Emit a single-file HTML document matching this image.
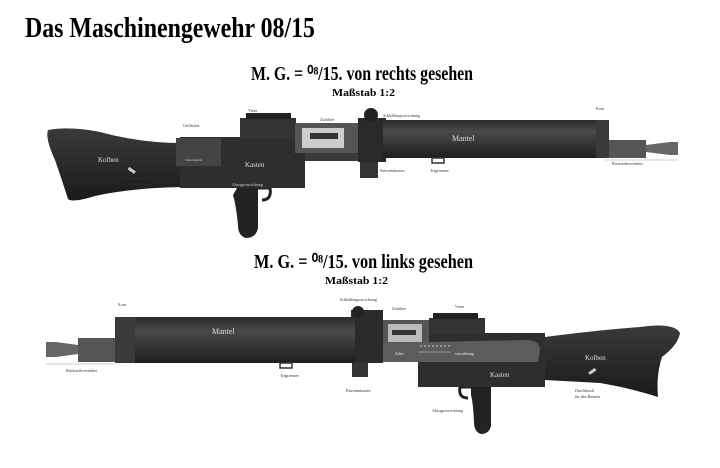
<!DOCTYPE html>
<html><head><meta charset="utf-8"><style>
html,body{margin:0;padding:0;background:#fff;}
svg{display:block}
text{font-family:"Liberation Serif",serif;}
</style></head><body>
<svg width="720" height="468" viewBox="0 0 720 468" xmlns="http://www.w3.org/2000/svg">
<defs>
<linearGradient id="bar" x1="0" y1="0" x2="0" y2="1">
<stop offset="0" stop-color="#2a2a2a"/><stop offset="0.3" stop-color="#4a4a4a"/><stop offset="1" stop-color="#1e1e1e"/></linearGradient>
<linearGradient id="stk" x1="0" y1="0" x2="0" y2="1">
<stop offset="0" stop-color="#3a3a3a"/><stop offset="1" stop-color="#1a1a1a"/></linearGradient>
</defs>
<rect width="720" height="468" fill="#fff"/>
<text x="25" y="37" font-size="29" font-weight="bold" textLength="290" lengthAdjust="spacingAndGlyphs">Das Maschinengewehr 08/15</text>
<text x="251" y="80" font-size="20" font-weight="bold" textLength="222" lengthAdjust="spacingAndGlyphs">M. G. = ⁰⁸/15. von rechts gesehen</text>
<text x="332" y="96" font-size="10" font-weight="bold" textLength="63" lengthAdjust="spacingAndGlyphs">Maßstab  1:2</text>
<text x="254" y="268" font-size="20" font-weight="bold" textLength="219" lengthAdjust="spacingAndGlyphs">M. G. = ⁰⁸/15. von links gesehen</text>
<text x="325" y="284" font-size="10" font-weight="bold" textLength="63" lengthAdjust="spacingAndGlyphs">Maßstab  1:2</text>

<!-- TOP GUN -->
<g>
<path d="M48,130 Q70,126 100,132 Q140,143 182,143 L182,187 Q130,188 95,196 Q72,203 68,199 Q62,180 55,160 Q45,138 48,130 Z" fill="url(#stk)"/>
<path d="M237,188 L258,188 L258,228 Q256,238 246,238 Q238,236 238,225 Q236,205 233,195 Z" fill="#222"/>
<path d="M258,188 L270,188 Q272,200 262,200" fill="none" stroke="#222" stroke-width="3"/>
<rect x="180" y="137" width="125" height="51" fill="#2e2e2e"/>
<rect x="240" y="118" width="56" height="20" fill="#333"/>
<rect x="246" y="113" width="45" height="6" fill="#222"/>
<rect x="176" y="138" width="45" height="28" fill="#444"/>
<rect x="295" y="123" width="63" height="30" fill="#555"/>
<rect x="302" y="128" width="42" height="20" fill="#ccc"/>
<rect x="310" y="133" width="28" height="6" fill="#333"/>
<rect x="305" y="153" width="55" height="8" fill="#3a3a3a"/>
<rect x="358" y="118" width="28" height="44" fill="#2a2a2a"/>
<circle cx="371" cy="115" r="7" fill="#222"/>
<rect x="360" y="162" width="18" height="16" fill="#333"/>
<rect x="383" y="120" width="226" height="38" fill="url(#bar)"/>
<rect x="596" y="120" width="13" height="38" fill="#3a3a3a"/>
<rect x="609" y="140" width="37" height="18" fill="#555"/>
<polygon points="646,145 670,142 678,142 678,155 670,155 646,152" fill="#666"/>
<rect x="432" y="158" width="12" height="5" fill="none" stroke="#333" stroke-width="1.5"/>
<text x="452" y="141" font-size="8" fill="#ddd">Mantel</text>
<text x="98" y="162" font-size="7" fill="#ddd">Kolben</text>
<text x="245" y="167" font-size="7" fill="#ddd">Kasten</text>
<text x="232" y="186" font-size="4" fill="#ccc">Abzugsvorrichtung</text>
<text x="185" y="161" font-size="3.5" fill="#ccc">Schloßhebel</text>
<rect x="128" y="169" width="8" height="3" fill="#ccc" transform="rotate(35 132 170)"/>
<g font-size="4" fill="#333">
<text x="248" y="112">Visier</text><text x="183" y="127">Griffstück</text>
<text x="320" y="121">Zuführer</text><text x="383" y="117">Schloßfangvorrichtung</text>
<text x="596" y="110">Korn</text><text x="380" y="172">Patronenkasten</text>
<text x="430" y="172">Tragriemen</text><text x="612" y="165">Rückstoßverstärker</text>
<text x="127" y="180">Durchbruch</text><text x="127" y="186">für den Riemen</text>
</g>
<line x1="605" y1="160" x2="678" y2="160" stroke="#999" stroke-width="0.6"/>
</g>

<!-- BOTTOM GUN -->
<g>
<path d="M545,337 Q600,330 640,327 Q674,322 680,333 Q678,345 662,357 Q656,375 658,397 Q630,388 600,383 L545,380 Z" fill="url(#stk)"/>
<path d="M471,387 L491,387 L491,426 Q489,434 481,434 Q474,432 474,422 Q473,402 471,395 Z" fill="#222"/>
<path d="M471,387 L460,387 Q458,398 468,398" fill="none" stroke="#222" stroke-width="3"/>
<rect x="418" y="333" width="127" height="54" fill="#2e2e2e"/>
<rect x="429" y="318" width="56" height="16" fill="#333"/>
<rect x="433" y="313" width="45" height="6" fill="#222"/>
<rect x="383" y="320" width="46" height="27" fill="#555"/>
<rect x="388" y="324" width="34" height="18" fill="#bbb"/>
<rect x="392" y="330" width="24" height="5" fill="#333"/>
<path d="M376,343 L528,340 Q540,341 540,350 L538,362 L376,362 Z" fill="#5c5c5c"/>
<line x1="418" y1="352" x2="450" y2="352" stroke="#ccc" stroke-width="0.5"/>
<line x1="420" y1="346" x2="450" y2="346" stroke="#ccc" stroke-width="1" stroke-dasharray="2,2"/>
<rect x="351" y="310" width="32" height="53" fill="#2a2a2a"/>
<circle cx="358" cy="312" r="6" fill="#222"/>
<rect x="352" y="362" width="16" height="15" fill="#333"/>
<rect x="115" y="317" width="240" height="46" fill="url(#bar)"/>
<rect x="115" y="317" width="20" height="46" fill="#3a3a3a"/>
<rect x="78" y="338" width="37" height="24" fill="#555"/>
<polygon points="46,342 56,342 78,345 78,354 56,357 46,357" fill="#666"/>
<rect x="280" y="363" width="12" height="5" fill="none" stroke="#333" stroke-width="1.5"/>
<text x="212" y="334" font-size="8" fill="#ddd">Mantel</text>
<text x="585" y="360" font-size="7" fill="#ddd">Kolben</text>
<text x="490" y="377" font-size="7" fill="#ddd">Kasten</text>
<text x="395" y="355" font-size="4" fill="#eee">Zahn-</text><text x="455" y="355" font-size="4" fill="#eee">vorrichtung</text>
<rect x="588" y="370" width="8" height="3" fill="#ccc" transform="rotate(-35 592 371)"/>
<g font-size="4" fill="#333">
<text x="118" y="306">Korn</text><text x="340" y="301">Schloßfangvorrichtung</text>
<text x="392" y="310">Zuführer</text><text x="455" y="308">Visier</text>
<text x="66" y="372">Rückstoßverstärker</text><text x="280" y="377">Tragriemen</text>
<text x="346" y="392">Patronenkasten</text><text x="432" y="412">Abzugsvorrichtung</text>
<text x="575" y="392">Durchbruch</text><text x="575" y="398">für den Riemen</text>
</g>
<line x1="46" y1="364" x2="116" y2="364" stroke="#999" stroke-width="0.6"/>
</g>
</svg>
</body></html>
